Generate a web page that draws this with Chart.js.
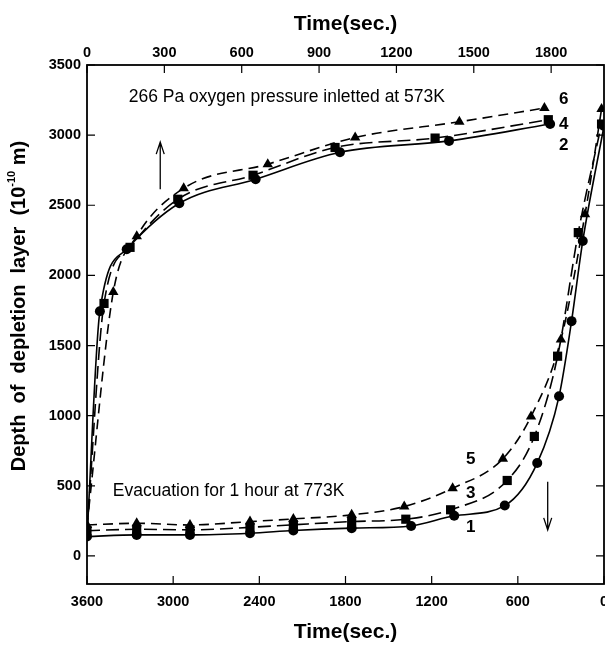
<!DOCTYPE html>
<html>
<head>
<meta charset="utf-8">
<script src="https://cdn.jsdelivr.net/npm/chart.js@4.4.0/dist/chart.umd.min.js"></script>
<style>
  html, body { margin: 0; padding: 0; background: #fff; overflow: hidden; }
  #wrap { width: 620px; height: 645px; }
</style>
</head>
<body>
<div id="wrap"><canvas id="chart" width="620" height="645"></canvas></div>
<script>
// evacuation at 773K (bottom axis, time runs 3600 -> 0)
const evacTime1 = [3600, 3254, 2883, 2465, 2163, 1757, 1343, 1043, 691, 465, 313, 226, 148, 0];
const evacDepth1 = [138, 150, 150, 162, 181, 198, 214, 286, 359, 662, 1138, 1674, 2245, 3065];
const evacTime3 = [3600, 3254, 2883, 2465, 2163, 1757, 1380, 1068, 674, 485, 323, 179, 17];
const evacDepth3 = [180, 190, 186, 204, 222, 245, 262, 329, 538, 852, 1424, 2305, 3079];
const evacTime5 = [3600, 3254, 2883, 2465, 2163, 1757, 1391, 1054, 704, 508, 300, 132, 17];
const evacDepth5 = [221, 233, 221, 245, 264, 293, 352, 483, 693, 995, 1543, 2436, 3186];

// 266 Pa oxygen inlet at 573K (top axis, time 0 -> 1800)
const oxTime2 = [0, 50, 154, 358, 654, 981, 1404, 1796];
const oxDepth2 = [138, 1745, 2186, 2514, 2686, 2878, 2959, 3079];
const oxTime4 = [0, 66, 167, 352, 644, 962, 1350, 1789];
const oxDepth4 = [180, 1800, 2200, 2543, 2714, 2912, 2979, 3110];
const oxTime6 = [0, 102, 193, 375, 701, 1040, 1444, 1774];
const oxDepth6 = [221, 1881, 2279, 2621, 2793, 2983, 3095, 3193];

const yTicks = [0, 500, 1000, 1500, 2000, 2500, 3000, 3500];
const bottomTicks = [3600, 3000, 2400, 1800, 1200, 600, 0];
const topTicks = [0, 300, 600, 900, 1200, 1500, 1800];

const pts = (xs, ys) => xs.map((x, i) => ({ x: x, y: ys[i] }));

function series(xs, ys, axis, style, dash, radius, skipFirst) {
    return {
        data: pts(xs, ys),
        xAxisID: axis,
        yAxisID: 'y',
        showLine: true,
        borderColor: '#000',
        backgroundColor: '#000',
        borderWidth: 1.6,
        borderDash: dash,
        pointStyle: style,
        pointRadius: xs.map((x, i) => (skipFirst && i === 0) ? 0 : radius),
        pointBorderWidth: 0,
        cubicInterpolationMode: 'monotone'
    };
}

const tickFont = { family: 'Liberation Sans, Arial', size: 14.5, weight: 'bold' };
const plain = v => String(v);

// frame, inside ticks, annotations and the y title
const decor = {
    id: 'decor',
    afterDraw(chart) {
        const ctx = chart.ctx;
        const a = chart.chartArea;
        const y = chart.scales.y, xb = chart.scales.xBottom, xt = chart.scales.xTop;
        ctx.save();
        ctx.strokeStyle = '#000';
        ctx.lineWidth = 1.8;
        ctx.strokeRect(a.left, a.top, a.right - a.left, a.bottom - a.top);
        ctx.lineWidth = 1.2;
        ctx.beginPath();
        yTicks.forEach(v => {
            const py = y.getPixelForValue(v);
            ctx.moveTo(a.left, py); ctx.lineTo(a.left + 8, py);
            ctx.moveTo(a.right, py); ctx.lineTo(a.right - 8, py);
        });
        bottomTicks.forEach(v => {
            const px = xb.getPixelForValue(v);
            ctx.moveTo(px, a.bottom); ctx.lineTo(px, a.bottom - 8);
        });
        topTicks.forEach(v => {
            const px = xt.getPixelForValue(v);
            ctx.moveTo(px, a.top); ctx.lineTo(px, a.top + 8);
        });
        ctx.stroke();

        ctx.fillStyle = '#000';
        ctx.textBaseline = 'middle';
        ctx.textAlign = 'left';
        ctx.font = '17.5px "Liberation Sans", Arial';
        ctx.fillText('266 Pa oxygen pressure inletted at 573K', xt.getPixelForValue(162), y.getPixelForValue(3271));
        ctx.fillText('Evacuation for 1 hour at 773K', xb.getPixelForValue(3420), y.getPixelForValue(459));

        ctx.font = 'bold 17px "Liberation Sans", Arial';
        ctx.textAlign = 'center';
        [['6', 3257], ['4', 3079], ['2', 2924]].forEach(([t, v]) =>
            ctx.fillText(t, xt.getPixelForValue(1849), y.getPixelForValue(v)));
        [['5', 686], ['3', 450], ['1', 207]].forEach(([t, v]) =>
            ctx.fillText(t, xb.getPixelForValue(928), y.getPixelForValue(v)));

        // arrows
        const arrow = (px, y1, y2) => {
            const dir = y2 > y1 ? 1 : -1;
            ctx.beginPath();
            ctx.moveTo(px, y1); ctx.lineTo(px, y2);
            ctx.moveTo(px - 4, y2 - dir * 12); ctx.lineTo(px, y2); ctx.lineTo(px + 4, y2 - dir * 12);
            ctx.stroke();
        };
        ctx.lineWidth = 1.3;
        arrow(xt.getPixelForValue(284), y.getPixelForValue(2614), y.getPixelForValue(2950));
        arrow(xb.getPixelForValue(392), y.getPixelForValue(529), y.getPixelForValue(186));

        // y axis title with superscript
        ctx.translate(19, 306);
        ctx.rotate(-Math.PI / 2);
        ctx.textAlign = 'left';
        const main = 'Depth  of  depletion  layer  (10';
        ctx.font = 'bold 20px "Liberation Sans", Arial';
        const w1 = ctx.measureText(main).width;
        ctx.font = 'bold 11px "Liberation Sans", Arial';
        const w2 = ctx.measureText('-10').width;
        ctx.font = 'bold 20px "Liberation Sans", Arial';
        const w3 = ctx.measureText(' m)').width;
        let x0 = -(w1 + w2 + w3) / 2;
        ctx.fillText(main, x0, 0);
        ctx.font = 'bold 11px "Liberation Sans", Arial';
        ctx.fillText('-10', x0 + w1, -7);
        ctx.font = 'bold 20px "Liberation Sans", Arial';
        ctx.fillText(' m)', x0 + w1 + w2, 0);
        ctx.restore();
    }
};

new Chart(document.getElementById('chart'), {
    type: 'scatter',
    data: {
        datasets: [
            series(evacTime1, evacDepth1, 'xBottom', 'circle', [], 5, false),
            series(evacTime3, evacDepth3, 'xBottom', 'rect', [13, 6], 6.5, false),
            series(evacTime5, evacDepth5, 'xBottom', 'triangle', [10, 6], 6, false),
            series(oxTime2, oxDepth2, 'xTop', 'circle', [], 5, true),
            series(oxTime4, oxDepth4, 'xTop', 'rect', [13, 6], 6.5, true),
            series(oxTime6, oxDepth6, 'xTop', 'triangle', [10, 6], 6, true)
        ]
    },
    options: {
        responsive: false,
        animation: false,
        layout: { padding: { left: 0, right: 16, top: 0, bottom: 0 } },
        plugins: { legend: { display: false }, tooltip: { enabled: false } },
        scales: {
            xBottom: {
                type: 'linear',
                position: 'bottom',
                reverse: true,
                min: 0,
                max: 3600,
                afterBuildTicks: s => { s.ticks = bottomTicks.map(v => ({ value: v })); },
                afterFit: s => { s.height = 61; },
                grid: { display: false, drawTicks: false },
                border: { display: false },
                ticks: { color: '#000', font: tickFont, padding: 9, maxRotation: 0, callback: plain },
                title: {
                    display: true, text: 'Time(sec.)', color: '#000',
                    font: { family: 'Liberation Sans, Arial', size: 21, weight: 'bold' },
                    padding: { top: 0, bottom: 0 }
                }
            },
            xTop: {
                type: 'linear',
                position: 'top',
                min: 0,
                max: 2005,
                afterBuildTicks: s => { s.ticks = topTicks.map(v => ({ value: v })); },
                afterFit: s => { s.height = 65; },
                grid: { display: false, drawTicks: false },
                border: { display: false },
                ticks: { color: '#000', font: tickFont, padding: 3, maxRotation: 0, callback: plain },
                title: {
                    display: true, text: 'Time(sec.)', color: '#000',
                    font: { family: 'Liberation Sans, Arial', size: 21, weight: 'bold' },
                    padding: { top: 12, bottom: 0 }
                }
            },
            y: {
                type: 'linear',
                position: 'left',
                min: -200,
                max: 3500,
                afterBuildTicks: s => { s.ticks = yTicks.map(v => ({ value: v })); },
                afterFit: s => { s.width = 87; },
                grid: { display: false, drawTicks: false },
                border: { display: false },
                ticks: { color: '#000', font: tickFont, padding: 6, callback: plain }
            }
        }
    },
    plugins: [decor]
});
</script>
</body>
</html>
